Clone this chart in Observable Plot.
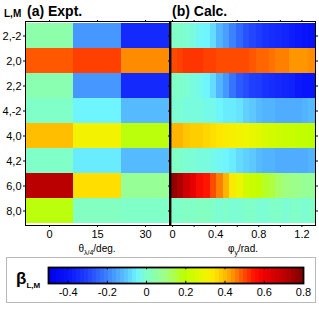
<!DOCTYPE html>
<html>
<head>
<meta charset="utf-8">
<script src="https://cdn.jsdelivr.net/npm/d3@7"></script>
<script src="https://cdn.jsdelivr.net/npm/@observablehq/plot@0.6"></script>
<style>
  body { margin: 0; background: white; font-family: "Liberation Sans", Arial, sans-serif; }
  #wrap { position: relative; width: 319px; height: 315px; overflow: hidden; }
  .abs { position: absolute; }
  .t { position: absolute; white-space: nowrap; color: #000; line-height: 1; }
</style>
</head>
<body>
<div id="wrap"></div>
<script>
// ---- data ----
const rowsLM = ["2,-2", "2,0", "2,2", "4,-2", "4,0", "4,2", "6,0", "8,0"];
const thetaDeg = [0, 15, 30];
// Expt. (rows in rowsLM order, columns theta = 0, 15, 30)
const e_2m2 = [0.04, -0.17, -0.35];
const e_20  = [0.49, 0.51, 0.45];
const e_22  = [0.03, -0.17, -0.35];
const e_4m2 = [0.0, -0.05, -0.12];
const e_40  = [0.40, 0.31, 0.19];
const e_42  = [0.0, -0.06, -0.12];
const e_60  = [0.71, 0.36, 0.07];
const e_80  = [0.19, 0.01, 0.0];
// Calc. column centres phi_y (rad)
const phiY = [0.012,0.073,0.134,0.195,0.256,0.317,0.379,0.440,0.501,0.562,0.623,0.684,0.745,0.806,0.868,0.929,0.990,1.051,1.112,1.173,1.234,1.295];
const c_2m2 = [0.0,0.0,-0.01,-0.02,-0.04,-0.05,-0.08,-0.13,-0.16,-0.2,-0.24,-0.27,-0.29,-0.31,-0.33,-0.34,-0.35,-0.36,-0.38,-0.39,-0.4,-0.41];
const c_20  = [0.5,0.51,0.52,0.52,0.52,0.51,0.51,0.5,0.5,0.5,0.5,0.5,0.49,0.48,0.48,0.47,0.46,0.46,0.44,0.44,0.44,0.45];
const c_22  = [0.0,0.0,-0.01,-0.02,-0.03,-0.05,-0.08,-0.13,-0.17,-0.22,-0.26,-0.28,-0.3,-0.31,-0.33,-0.34,-0.35,-0.36,-0.37,-0.39,-0.4,-0.4];
const c_4m2 = [-0.01,-0.01,-0.02,-0.02,-0.02,-0.03,-0.03,-0.05,-0.06,-0.06,-0.07,-0.09,-0.1,-0.12,-0.13,-0.13,-0.14,-0.14,-0.14,-0.14,-0.13,-0.12];
const c_40  = [0.41,0.41,0.39,0.38,0.38,0.37,0.36,0.35,0.33,0.32,0.31,0.3,0.28,0.27,0.25,0.24,0.23,0.22,0.22,0.21,0.21,0.2];
const c_42  = [0.0,0.0,-0.01,-0.01,-0.02,-0.02,-0.03,-0.04,-0.05,-0.06,-0.08,-0.09,-0.1,-0.12,-0.13,-0.13,-0.14,-0.14,-0.14,-0.14,-0.14,-0.13];
const c_60  = [0.77,0.73,0.67,0.62,0.57,0.55,0.5,0.46,0.41,0.34,0.29,0.24,0.22,0.21,0.17,0.15,0.12,0.1,0.09,0.08,0.07,0.07];
const c_80  = [0.0,0.0,0.01,0.0,0.01,0.01,0.0,-0.01,0.0,-0.01,-0.01,0.0,0.0,-0.01,-0.01,0.0,0.0,-0.01,0.0,0.0,-0.01,0.0];
// colour bar
const cbTicks = [-0.4, -0.2, 0, 0.2, 0.4, 0.6, 0.8];
const cmapStops  = [-0.5, -0.4, -0.3, -0.2, -0.1, -0.05, 0, 0.1, 0.2, 0.3, 0.35, 0.4, 0.45, 0.5, 0.55, 0.6, 0.7, 0.8];
const cmapColors = ["#0000e8","#0814fa","#2040ff","#3c82ff","#5cc8ff","#6ef5ff","#80ffc8","#a0ff80","#beff00","#f0f500","#ffe600","#ffbe00","#ff8c00","#ff4b00","#ff1400","#f00000","#c00000","#800000"];

// ---- build tables ----
const exptRows = [e_2m2, e_20, e_22, e_4m2, e_40, e_42, e_60, e_80];
const calcRows = [c_2m2, c_20, c_22, c_4m2, c_40, c_42, c_60, c_80];
const cmap = d3.scaleLinear().domain(cmapStops).range(cmapColors).clamp(true);
const exptData = exptRows.flatMap((r, i) => r.map((v, j) => ({lm: rowsLM[i], theta: thetaDeg[j], v})));
const half = (phiY[1] - phiY[0]) / 2;
const calcData = calcRows.flatMap((r, i) => r.map((v, j) => ({lm: rowsLM[i], p1: phiY[j] - half, p2: phiY[j] + half, v})));

const wrap = document.getElementById("wrap");
const blank = () => "";
const common = {style: {background: "transparent", overflow: "visible", fontFamily: "Liberation Sans, Arial, sans-serif"}};

// ---- panel (a) ----
const pa = Plot.plot({
  ...common,
  width: 170, height: 242,
  marginLeft: 25, marginRight: 1, marginTop: 21, marginBottom: 17,
  x: {type: "band", domain: thetaDeg, padding: 0, axis: null},
  y: {type: "band", domain: rowsLM, padding: 0, axis: null},
  color: {type: "identity"},
  marks: [
    Plot.cell(exptData, {x: "theta", y: "lm", fill: d => cmap(d.v), inset: 0, shapeRendering: "crispEdges"}),
    Plot.frame({stroke: "black", strokeWidth: 1}),
    Plot.axisY({anchor: "left", tickSize: 2, tickPadding: 2, fontSize: 11, label: null}),
    Plot.axisY({anchor: "right", tickSize: 2, tickFormat: blank, label: null}),
    Plot.axisX({anchor: "top", tickSize: 2, tickFormat: blank, label: null}),
    Plot.axisX({anchor: "bottom", tickSize: 2, tickPadding: 3, fontSize: 11, label: null})
  ]
});
pa.classList.add("abs"); pa.style.left = "0px"; pa.style.top = "0px";
wrap.appendChild(pa);

// ---- panel (b) ----
const xDom = [-0.019, 1.326];
const pb = Plot.plot({
  ...common,
  width: 169, height: 242,
  marginLeft: 20, marginRight: 4, marginTop: 21, marginBottom: 17,
  x: {type: "linear", domain: xDom, axis: null},
  y: {type: "band", domain: rowsLM, padding: 0, axis: null},
  color: {type: "identity"},
  marks: [
    Plot.barX(calcData, {x1: "p1", x2: "p2", y: "lm", fill: d => cmap(d.v), inset: 0, shapeRendering: "crispEdges"}),
    Plot.frame({stroke: "black", strokeWidth: 1}),
    Plot.ruleX([xDom[0]], {stroke: "black", strokeWidth: 1.8}),
    Plot.axisY({anchor: "left", tickSize: 2, tickFormat: blank, label: null}),
    Plot.axisY({anchor: "right", tickSize: 2, tickFormat: blank, label: null}),
    Plot.axisX({anchor: "top", ticks: [0, 0.2, 0.4, 0.6, 0.8, 1.0, 1.2], tickSize: 2, tickFormat: blank, label: null}),
    Plot.axisX({anchor: "bottom", ticks: [0, 0.2, 0.4, 0.6, 0.8, 1.0, 1.2], tickSize: 2, tickFormat: blank, label: null}),
    Plot.axisX({anchor: "bottom", ticks: [0, 0.4, 0.8, 1.2], tickSize: 0, tickPadding: 5, fontSize: 11, tickFormat: d => d === 0 ? "0" : d.toFixed(1), label: null})
  ]
});
pb.classList.add("abs"); pb.style.left = "150px"; pb.style.top = "0px";
wrap.appendChild(pb);

// ---- colour bar ----
const box = document.createElement("div");
box.className = "abs";
Object.assign(box.style, {left: "6px", top: "257px", width: "310px", height: "46px", border: "1.5px solid #b9b9b9", boxSizing: "border-box"});
wrap.appendChild(box);

const nSteps = 64;
const cbDom = [-0.5, 0.8];
const stepW = (cbDom[1] - cbDom[0]) / nSteps;
const cbCells = d3.range(nSteps).map(i => ({a: cbDom[0] + i * stepW, b: cbDom[0] + (i + 1) * stepW}));
const pc = Plot.plot({
  ...common,
  width: 319, height: 48,
  marginLeft: 48, marginRight: 16, marginTop: 10, marginBottom: 22,
  x: {type: "linear", domain: cbDom, axis: null},
  y: {type: "linear", domain: [0, 1], axis: null},
  color: {type: "identity"},
  marks: [
    Plot.rect(cbCells, {x1: "a", x2: "b", y1: 0, y2: 1, fill: d => cmap((d.a + d.b) / 2), shapeRendering: "crispEdges"}),
    Plot.ruleX(cbTicks, {y1: 0, y2: 0.14, stroke: "black"}),
    Plot.ruleX(cbTicks, {y1: 0.86, y2: 1, stroke: "black"}),
    Plot.frame({stroke: "black", strokeWidth: 1.8}),
    Plot.axisX({anchor: "bottom", ticks: cbTicks, tickSize: 0, tickPadding: 5, fontSize: 11, tickFormat: d => d === 0 ? "0" : d.toFixed(1), label: null})
  ]
});
pc.classList.add("abs"); pc.style.left = "0px"; pc.style.top = "257px";
wrap.appendChild(pc);

// ---- texts ----
function addText(html, css) {
  const d = document.createElement("div");
  d.className = "t";
  d.innerHTML = html;
  Object.assign(d.style, css);
  wrap.appendChild(d);
  return d;
}
addText("L,M", {left: "4px", top: "9px", fontSize: "10px", fontWeight: "bold"});
addText("(a) Expt.", {left: "27px", top: "4px", fontSize: "14px", fontWeight: "bold"});
addText("(b) Calc.", {left: "172px", top: "4px", fontSize: "14px", fontWeight: "bold"});
addText("θ<sub style='font-size:7px'>λ/4</sub>/deg.", {left: "97px", top: "244px", fontSize: "10px", transform: "translateX(-50%)"});
addText("φ<sub style='font-size:7px'>y</sub>/rad.", {left: "243px", top: "244px", fontSize: "10px", transform: "translateX(-50%)"});
addText("β<sub style='font-size:8px;font-weight:bold'>L,M</sub>", {left: "16px", top: "270px", fontSize: "17px", fontWeight: "bold"});
</script>
</body>
</html>
